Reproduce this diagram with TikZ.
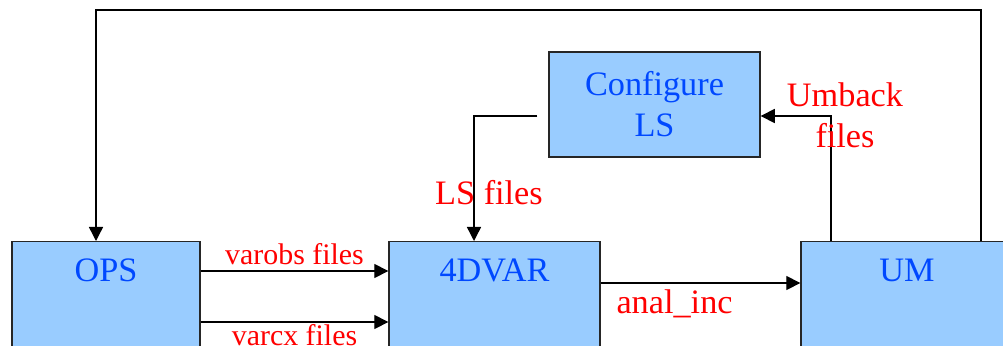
\documentclass[tikz,border=0pt]{standalone}
\usepackage{fontspec}
\setmainfont{Liberation Serif}
\usetikzlibrary{arrows.meta}
\definecolor{boxfill}{RGB}{153,204,255}
\definecolor{boxtext}{RGB}{0,72,255}
\begin{document}
\begin{tikzpicture}[x=0.02cm, y=-0.02cm]
    \tikzstyle{box}=[draw=black!85, fill=boxfill, line width=0.8pt, text=boxtext, font=\fontsize{19.5}{23.4}\selectfont, inner sep=0pt]
    \tikzstyle{job}=[box, anchor=north, text height=0.8cm, text depth=2cm]
    \tikzstyle{lbl}=[text=red, font=\fontsize{19.5}{23.4}\selectfont]
    \tikzstyle{small}=[text=red, font=\fontsize{17}{20}\selectfont]
    \tikzstyle{arr}=[line width=0.8pt, -{Triangle[length=8pt,width=8pt]}]

    \useasboundingbox (0,0) rectangle (1003,345);
    \clip (0,0) rectangle (1003,345);

    \node[job, minimum width=3.76cm] (ops) at (106,241) {OPS};
    \node[job, minimum width=4.22cm] (var) at (494.5,241) {4DVAR};
    \node[job, minimum width=4.24cm] (um) at (907,241) {UM};
    \node[box, minimum width=4.22cm, minimum height=2.1cm, align=center] (cfg) at (654.5,104.5) {Configure\\LS};

    \coordinate (tl) at (96,10);
    \coordinate (tr) at (981,10);
    \coordinate (lsbend) at (474,116);
    \coordinate (umbend) at (831,116);
    \coordinate (obs) at (0,271);
    \coordinate (cx) at (0,322);
    \coordinate (inc) at (0,283);

    \draw[arr] (tr |- um.north) -- (tr) -- (tl) -- (tl |- ops.north);
    \draw[arr, shorten <=0.22cm] (cfg.west |- lsbend) -- (lsbend) -- (lsbend |- var.north);
    \draw[arr] (umbend |- um.north) -- (umbend) -- (umbend -| cfg.east);
    \draw[arr] (ops.east |- obs) -- node[small, above] {varobs files} (var.west |- obs);
    \draw[arr] (ops.east |- cx) -- node[small, below, inner sep=1pt] {varcx files} (var.west |- cx);
    \draw[arr] (var.east |- inc) -- node[lbl, below, pos=0.37] {anal\_inc} (um.west |- inc);

    \node[lbl] (lsfiles) at (489,193) {LS files};
    \node[lbl, align=center] (umback) at (845,115) {Umback\\files};
\end{tikzpicture}
\end{document}
